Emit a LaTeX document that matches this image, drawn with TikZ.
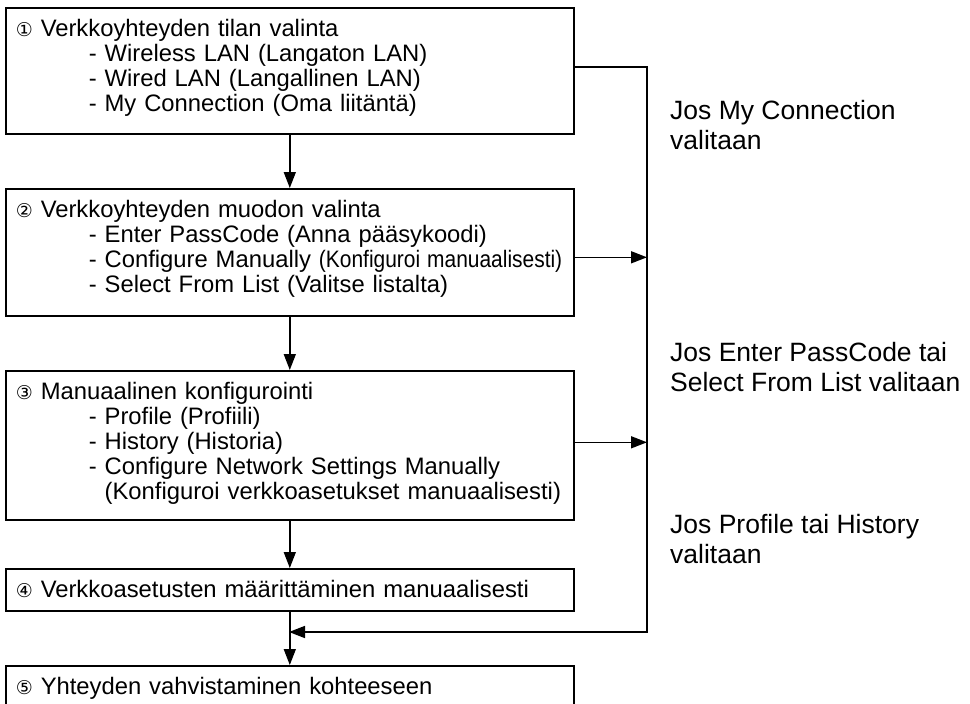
\documentclass[tikz,border=0pt]{standalone}
\usepackage{graphicx}
\usepackage{fontspec}
\setmainfont{Liberation Sans}
\newfontfamily\circfont{DejaVu Sans}
\usetikzlibrary{arrows.meta,positioning}

\newcommand{\circnum}[1]{\rule{0pt}{29pt}{\circfont\fontsize{19}{19}\selectfont #1}}
\newcommand{\itm}[1]{\hspace*{73pt}- #1}
\newcommand{\cnt}[1]{\hspace*{73pt}\phantom{- }#1}

\begin{document}
\begin{tikzpicture}[x=1pt,y=1pt,
  stepbox/.style={draw,line width=1.6pt,anchor=north west,text width=548pt,
    align=left,inner xsep=10pt,inner ysep=0pt,font=\fontsize{23.8}{25}\selectfont},
  flow/.style={line width=1.6pt,-{Triangle[length=16pt,width=12pt]}},
  note/.style={anchor=north west,align=left,inner sep=0pt,font=\fontsize{26.5}{30}\selectfont}]
\useasboundingbox (0,0) rectangle (970,-704);
\clip (0,0) rectangle (970,-704);
% steps
\node[stepbox,text depth=97pt] (state) at (5,-7)
  {\circnum{①} Verkkoyhteyden tilan valinta\\
   \itm{Wireless LAN (Langaton LAN)}\\
   \itm{Wired LAN (Langallinen LAN)}\\
   \itm{My Connection (Oma liitäntä)}};
\node[stepbox,text depth=98pt] (type) at (5,-188)
  {\circnum{②} Verkkoyhteyden muodon valinta\\
   \itm{Enter PassCode (Anna pääsykoodi)}\\
   \itm{Configure Manually \scalebox{0.88}[1]{(Konfiguroi manuaalisesti)}}\\
   \itm{Select From List (Valitse listalta)}};
\node[stepbox,text depth=120pt] (manual) at (5,-370)
  {\circnum{③} Manuaalinen konfigurointi\\
   \itm{Profile (Profiili)}\\
   \itm{History (Historia)}\\
   \itm{Configure Network Settings Manually}\\
   \cnt{(Konfiguroi verkkoasetukset manuaalisesti)}};
\node[stepbox,text depth=13pt] (settings) at (5,-568)
  {\circnum{④} Verkkoasetusten määrittäminen manuaalisesti};
\node[stepbox,text depth=41pt] (confirm) at (5,-665)
  {\circnum{⑤} Yhteyden vahvistaminen kohteeseen};
% side notes
\node[note] (noteA) at (670,-100) {Jos My Connection\\valitaan};
\node[note] (noteB) at (670,-342) {Jos Enter PassCode tai\\Select From List valitaan};
\node[note] (noteC) at (670,-514) {Jos Profile tai History\\valitaan};
% connectors
\coordinate (railtop) at (647,-67);
\coordinate (railbot) at (647,-632);
\coordinate (join) at (289,-632);
\draw[flow] (state.south) -- (type.north);
\draw[flow] (type.south) -- (manual.north);
\draw[flow] (manual.south) -- (settings.north);
\draw[flow] (settings.south) -- (confirm.north);
\draw[flow] (state.east |- railtop) -- (railtop) -- (railbot) -- (join);
\draw[flow] ([yshift=-5pt]type.east) -- ([yshift=-5pt]type.east -| railtop);
\draw[flow] ([yshift=3pt]manual.east) -- ([yshift=3pt]manual.east -| railtop);
\end{tikzpicture}
\end{document}
